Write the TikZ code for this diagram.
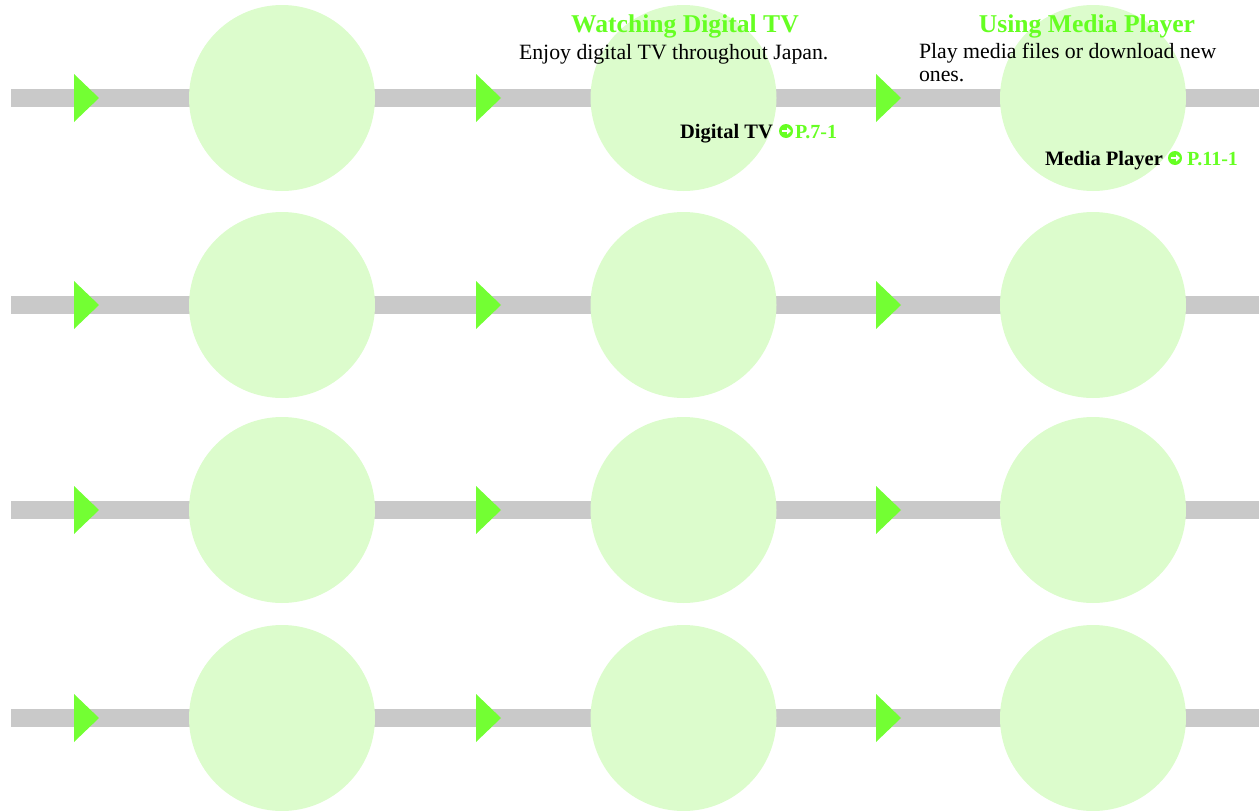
\documentclass[tikz,border=0pt]{standalone}
\usepackage{fontspec}
\setmainfont{Liberation Serif}
\usetikzlibrary{arrows.meta}
\definecolor{bargray}{HTML}{C9C9C9}
\definecolor{circfill}{HTML}{DCFCCC}
\definecolor{trigreen}{HTML}{73FF33}
\definecolor{txtgreen}{HTML}{66FF22}
\tikzset{
  disc/.style={circle, fill=circfill, draw=none, minimum size=186pt, inner sep=0pt},
  bar/.style={fill=bargray, draw=none},
  tri/.style={fill=trigreen, draw=none},
  lbl/.style={anchor=base west, inner sep=0pt, outer sep=0pt},
  ttl/.style={anchor=base, inner sep=0pt, text=txtgreen, font=\fontsize{25.6}{30}\selectfont\bfseries},
  desc/.style={lbl, font=\fontsize{21.8}{23}\selectfont, align=left},
  ref/.style={lbl, font=\fontsize{20.5}{24}\selectfont\bfseries},
  refp/.style={lbl, text=txtgreen, font=\fontsize{20}{24}\selectfont\bfseries},
  goicon/.style={circle, fill=txtgreen, draw=none, minimum size=14pt, inner sep=0pt},
  goarrow/.style={draw=white, line width=2pt, -{Triangle[length=4pt,width=7pt]}},
}
\begin{document}
\begin{tikzpicture}[x=1pt,y=-1pt]
\useasboundingbox (0,0) rectangle (1259,811);
\foreach \r/\y in {1/98,2/305,3/510,4/718}{
  \fill[bar] (11,\y-9) rectangle (1259,\y+9);
  \foreach \tx in {74,476,876}{
    \fill[tri] (\tx,\y-24) -- (\tx+25,\y) -- (\tx,\y+24) -- cycle;
  }
  \node[disc] (c\r a) at (282,\y) {};
  \node[disc] (c\r b) at (683.5,\y) {};
  \node[disc] (c\r c) at (1093,\y) {};
}
\node[ttl] (t1) at (685,32) {Watching Digital TV};
\node[desc] (d1) at (519,59) {Enjoy digital TV throughout Japan.};
\node[ref] (r1) at (680,138) {Digital TV};
\node[goicon] (g1) at (786,131) {};
\draw[goarrow] ([xshift=-4.5pt]g1.center) -- ([xshift=5pt]g1.center);
\node[refp] (p1) at (795,138) {P.7-1};
\node[ttl] (t2) at (1087,32) {Using Media Player};
\node[lbl, anchor=north west, font=\fontsize{21.8}{23}\selectfont, align=left] (d2) at (919,43) {Play media files or download new\\ones.};
\node[ref] (r2) at (1045,165) {Media Player};
\node[goicon] (g2) at (1175,158) {};
\draw[goarrow] ([xshift=-4.5pt]g2.center) -- ([xshift=5pt]g2.center);
\node[refp] (p2) at (1187,165) {P.11-1};
\end{tikzpicture}
\end{document}
